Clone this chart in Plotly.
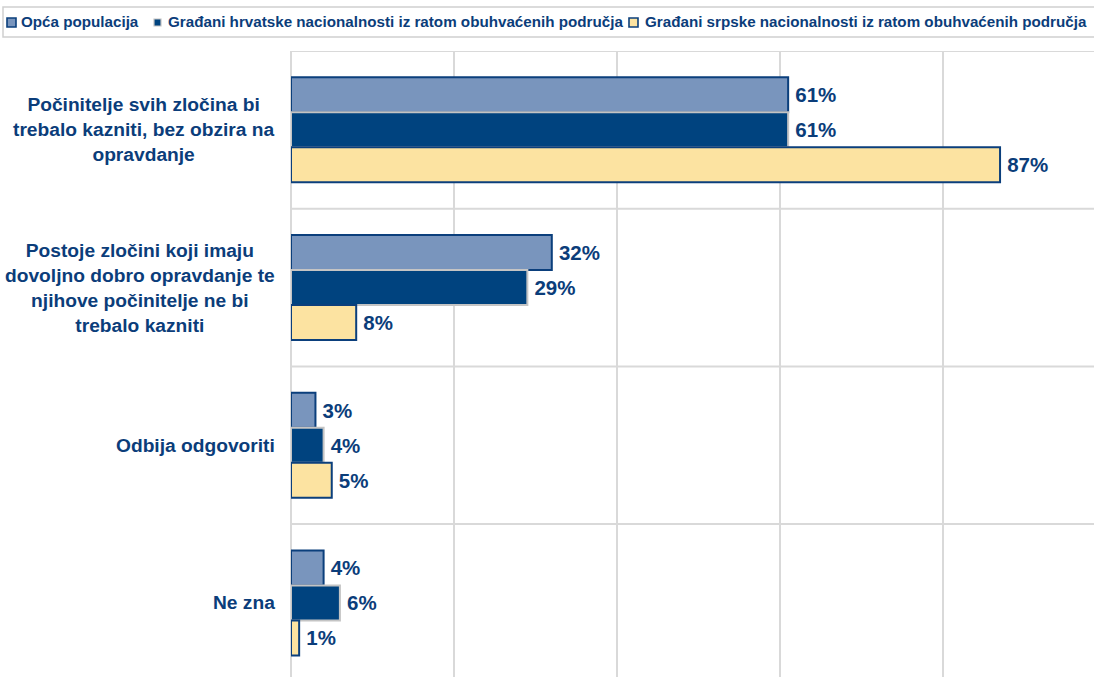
import plotly.graph_objects as go

categories = [
    "Počinitelje svih zločina bi<br>trebalo kazniti, bez obzira na<br>opravdanje",
    "Postoje zločini koji imaju<br>dovoljno dobro opravdanje te<br>njihove počinitelje ne bi<br>trebalo kazniti",
    "Odbija odgovoriti",
    "Ne zna",
]
series_names = [
    "Opća populacija",
    "Građani hrvatske nacionalnosti iz ratom obuhvaćenih područja",
    "Građani srpske nacionalnosti iz ratom obuhvaćenih područja",
]
opca = [61, 32, 3, 4]
hrvati = [61, 29, 4, 6]
srbi = [87, 8, 5, 1]

fills = ["#7995bd", "#00437f", "#fce3a1"]
borders = ["#0b3f7c", "#c4c4c4", "#0b3f7c"]
TXT = "#0b3d7a"
FONT = "Liberation Sans, Arial, Helvetica, sans-serif"

W, H = 1094, 677
ML, MT = 291, 51
PW, PH = W - ML, H - MT

def px(x):
    return (x - ML) / PW

def py(y):
    return (H - y) / PH

fig = go.Figure()
ypos = list(range(len(categories)))
for name, vals, fc, bc in zip(series_names, [opca, hrvati, srbi], fills, borders):
    fig.add_trace(go.Bar(
        y=ypos, x=vals, orientation="h", name=name,
        marker=dict(color=fc, line=dict(color=bc, width=2)),
        text=[f"\u2009{v}%" for v in vals], textposition="outside",
        textfont=dict(family=FONT, size=20.5, color=TXT, weight="bold"),
        cliponaxis=False, showlegend=False, hoverinfo="skip",
    ))

annotations = []
for i, c in enumerate(categories):
    annotations.append(dict(
        x=0, xref="paper", y=i, yref="y", text=c, showarrow=False,
        xanchor="right", yanchor="middle", align="center", xshift=-14,
        font=dict(family=FONT, size=19.2, color=TXT, weight="bold"),
    ))

shapes = []
# legend frame
shapes.append(dict(type="rect", xref="paper", yref="paper",
                   x0=px(3), x1=px(1110), y0=py(37), y1=py(7),
                   line=dict(color="#d0d0d0", width=1.5), fillcolor="white", layer="below"))
sq_x = [7, 153, 629]
txt_x = [19, 166, 643]
for k in range(3):
    x0 = sq_x[k]
    if k == 1:
        shapes.append(dict(type="rect", xref="paper", yref="paper",
                           x0=px(x0 + 1), x1=px(x0 + 8), y0=py(26), y1=py(19),
                           line=dict(color="#c4c4c4", width=1.2), fillcolor=fills[k]))
    else:
        shapes.append(dict(type="rect", xref="paper", yref="paper",
                           x0=px(x0), x1=px(x0 + 9), y0=py(27), y1=py(18),
                           line=dict(color="#0b3f7c", width=1.6), fillcolor=fills[k]))
    annotations.append(dict(
        x=px(txt_x[k]), xref="paper", y=py(21.5), yref="paper", text=series_names[k],
        showarrow=False, xanchor="left", yanchor="middle",
        font=dict(family=FONT, size=15.2, color=TXT, weight="bold"),
    ))

# top border and category separators
for yb in [-0.5, 0.5, 1.5, 2.5]:
    shapes.append(dict(type="line", xref="paper", yref="y", x0=0, x1=1.01, y0=yb, y1=yb,
                       line=dict(color="#d9d9d9", width=2), layer="below"))

fig.update_layout(
    width=W, height=H,
    margin=dict(l=ML, r=0, t=MT, b=0, pad=0),
    paper_bgcolor="white", plot_bgcolor="white",
    barmode="group", bargap=0.334, bargroupgap=0,
    xaxis=dict(range=[0, PW / 8.15], dtick=20, tick0=0, showgrid=True, gridcolor="#d9d9d9",
               gridwidth=2, showticklabels=False, zeroline=False, showline=False, ticks=""),
    yaxis=dict(range=[-0.5 + PH / 157.7, -0.5], showgrid=False, showticklabels=False,
               zeroline=False, showline=False, ticks=""),
    annotations=annotations, shapes=shapes,
    showlegend=False, hovermode=False,
)
fig.add_shape(type="line", xref="paper", yref="paper", x0=0, x1=0, y0=0, y1=1,
              line=dict(color="#d9d9d9", width=2), layer="below")

fig.write_html("out.html", config={"displayModeBar": False},
               post_script="document.body.style.margin='0';")
